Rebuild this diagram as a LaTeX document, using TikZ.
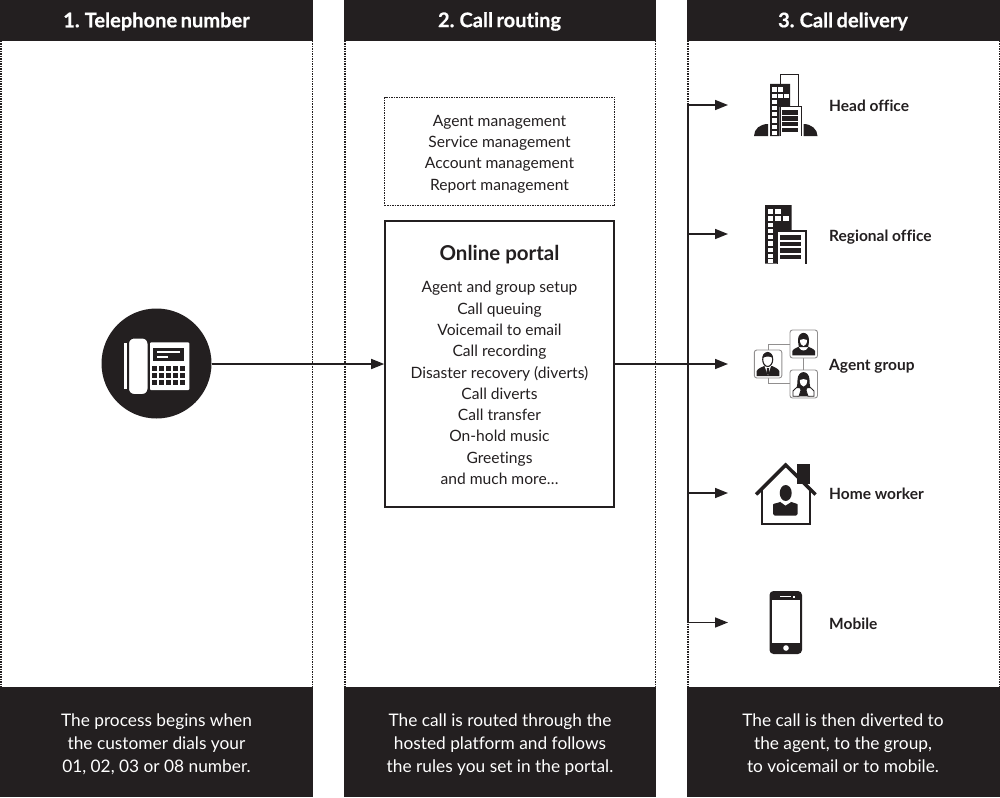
\documentclass[tikz,border=0pt]{standalone}
\usepackage{fontspec}
\setmainfont{Lato}[Ligatures=CommonOff]
\newfontface\hdrfont{Lato Bold}[Ligatures=CommonOff,FakeBold=0.6,WordSpace=0.7]
\definecolor{ink}{HTML}{231F20}
\usetikzlibrary{arrows.meta}
\tikzset{
  x=1pt,y=-1pt,
  band/.style={fill=ink,draw=none},
  dotline/.style={draw=ink,line width=1.5pt,dash pattern=on 1.5pt off 1pt},
  headtxt/.style={text=white,font=\fontsize{20.1}{21}\hdrfont,anchor=center,inner sep=0pt},
  foottxt/.style={text=white,font=\fontsize{17.3}{23.2}\selectfont,align=center,anchor=center,inner sep=0pt},
  bodytxt/.style={text=ink,font=\fontsize{15.6}{21.3}\selectfont,align=center,inner sep=0pt},
  lab/.style={text=ink,font=\fontsize{15.5}{17}\selectfont\bfseries,anchor=base west,inner sep=0pt},
  conn/.style={draw=ink,line width=1.6pt},
  tip/.style={conn,-{Triangle[length=13pt,width=10pt]}},
  ic/.style={fill=ink,draw=none},
  wh/.style={fill=white,draw=none},
}
\begin{document}
\begin{tikzpicture}
\useasboundingbox (0,0) rectangle (1000,797);
% panels
\foreach \a/\b in {0/313,344/656,687/1000}{
  \fill[band] (\a,0) rectangle (\b,41);
  \fill[band] (\a,687) rectangle (\b,797);
  \draw[dotline] (\a+.75,41) -- (\a+.75,687);
  \draw[dotline] (\b-.75,41) -- (\b-.75,687);
}
\node[headtxt] (h1) at (156.5,21.5) {1. Telephone number};
\node[headtxt] (h2) at (499.5,21.5) {2. Call routing};
\node[headtxt] (h3) at (843,21.5) {3. Call delivery};
\node[foottxt] (f1) at (156.5,744) {The process begins when\\the customer dials your\\01, 02, 03 or 08 number.};
\node[foottxt] (f2) at (500,744.6) {The call is routed through the\\hosted platform and follows\\the rules you set in the portal.};
\node[foottxt] (f3) at (843,743.4) {The call is then diverted to\\the agent, to the group,\\to voicemail or to mobile.};
% top box
\node[dotline,minimum width=230pt,minimum height=108pt,inner sep=0pt] (mgmt) at (499.5,151.5) {};
\node[bodytxt] (mtxt) at (499.5,154) {Agent management\\Service management\\Account management\\Report management};
% portal
\node[draw=ink,line width=1.6pt,minimum width=229pt,minimum height=286pt,inner sep=0pt] (portal) at (499.5,364) {};
\node[text=ink,font=\fontsize{20.5}{23}\selectfont\bfseries,inner sep=0pt] (ptitle) at (499.5,254.7) {Online portal};
\node[bodytxt] (plist) at (499.5,383) {Agent and group setup\\Call queuing\\Voicemail to email\\Call recording\\Disaster recovery (diverts)\\Call diverts\\Call transfer\\On-hold music\\Greetings\\and much more…};
% phone
\node[circle,fill=ink,minimum size=110pt,inner sep=0pt] (phone) at (156.5,363.5) {};
\fill[wh,rounded corners=1pt] (150,342.3) rectangle (189.3,390);
\fill[ic] (152.7,347.7) rectangle (184.3,361);
\fill[wh] (156.7,351) rectangle (180,353.3);
\fill[wh] (156.7,355.7) rectangle (168.3,358.3);
\foreach \r in {366,373,380}{\foreach \c in {152,159,166,173,179.7}{\fill[ic] (\c,\r) rectangle +(5,5.2);}}
\fill[wh] (124,343.3) rectangle (126.7,389.3);
\fill[wh,draw=ink,line width=2pt,rounded corners=6pt] (128,337.5) rectangle (148.5,395);
% labels
\node[lab] (lhead) at (829,112) {Head office};
\node[lab] (lreg) at (829,241) {Regional office};
\node[lab] (lagent) at (829,370.5) {Agent group};
\node[lab] (lhome) at (829,499.8) {Home worker};
\node[lab] (lmob) at (829,629) {Mobile};
% connectors
\coordinate (busT) at (687.7,105);
\coordinate (busB) at (687.7,622.5);
\coordinate (i1) at (728,105);
\coordinate (i2) at (728,234);
\coordinate (i3) at (728,364);
\coordinate (i4) at (728,493);
\coordinate (i5) at (728,622.5);
\draw[conn,line width=2pt] (busT) -- (busB);
\draw[tip] (phone.east|-portal.west) -- (portal.west);
\draw[tip] (portal.east) -- (i3);
\foreach \n in {1,2,4,5}{\draw[tip] (busT|-i\n) -- (i\n);}
% head office icon
\draw[draw=ink,line width=1pt] (780,85) -- (780,75) -- (798,75) -- (798,107);
\fill[ic] (770,84) -- (790,84) -- (790,107) -- (779.5,107) -- (779.5,136) -- (770,136) -- cycle;
\foreach \y in {100.5,106.5,112.5,118.5,124.5,130.5}{\fill[wh] (772,\y) rectangle +(4.5,4);}
\foreach \x/\y in {772/87.5,778/87.5,772/94,778/94,784/94}{\fill[wh] (\x,\y) rectangle +(4.5,4.5);}
\draw[draw=ink,line width=1pt] (780,136) -- (780,107) -- (801.5,107) -- (801.5,136);
\foreach \y in {110.5,116.5,122,128}{\fill[ic] (781.5,\y) rectangle +(16,4.3);}
\fill[ic] (754,136) .. controls (754,129) and (760,124) .. (768,124) -- (768,136) -- cycle;
\fill[ic] (817.5,136) .. controls (817.5,129) and (811,124) .. (803.5,124) -- (803.5,136) -- cycle;
% regional icon
\fill[ic] (765,205) -- (791.5,205) -- (791.5,231) -- (777,231) -- (777,263.5) -- (765,263.5) -- cycle;
\foreach \y in {222.5,228.8,235.1,241.4,247.7,254,258.5}{\fill[wh] (767.5,\y) rectangle +(5.7,4.2);}
\foreach \x/\y in {767.5/209,775/209,767.5/216,775/216,783/216}{\fill[wh] (\x,\y) rectangle +(5.5,5);}
\draw[draw=ink,line width=1.6pt] (777.5,263.5) -- (777.5,231) -- (806,231) -- (806,263.5);
\foreach \y in {235,241.5,248,254.5}{\fill[ic] (780,\y) rectangle +(21,4.8);}
% agent icon
\draw[draw=ink!50,line width=.9pt] (768,350) -- (768,344) -- (790,344);
\draw[draw=ink!50,line width=.9pt] (768,378) -- (768,383) -- (790,383);
\draw[draw=ink!50,line width=.9pt] (803.5,357.5) -- (803.5,370);
\foreach \x/\y in {754.3/350,790/330,790/370}{
  \draw[draw=ink!50,fill=white,line width=.9pt,rounded corners=2.5pt] (\x,\y) rectangle +(27.5,28);
}
% man
\fill[ic] (756.7,376) -- (756.7,371) .. controls (758,368) and (762,367.5) .. (764,366) -- (772,366) .. controls (774,367.5) and (778,368) .. (779.3,371) -- (779.3,376) -- cycle;
\fill[wh] (764.5,366) -- (771,366) -- (768,375.5) -- cycle;
\fill[ic] (767,368) -- (769,368) -- (769.5,373) -- (768,375) -- (766.5,373) -- cycle;
\draw[draw=ink,fill=white,line width=1.1pt] (767.7,359.5) ellipse[x radius=5,y radius=7];
\fill[ic] (762.5,358) .. controls (762,350.5) and (773,350.5) .. (772.8,358) .. controls (770,356) and (766,356) .. (762.5,358) -- cycle;
% woman 1
\fill[ic] (792.3,355.3) -- (792.3,351) .. controls (794,348) and (798,347.5) .. (800,346) -- (807,346) .. controls (809,347.5) and (813,348) .. (815,351) -- (815,355.3) -- cycle;
\fill[wh] (799,347.5) .. controls (801,351.5) and (806,351.5) .. (808,347.5) -- (806,345) -- (801,345) -- cycle;
\fill[ic] (798,340) .. controls (798,330.5) and (809,330.5) .. (809,340) .. controls (809,343) and (808.5,345) .. (808,347) -- (799,347) .. controls (798.5,345) and (798,343) .. (798,340) -- cycle;
\fill[wh] (800,340) .. controls (802,339) and (805,338.5) .. (807,340) .. controls (807,343.5) and (805.5,346) .. (803.5,346) .. controls (801.5,346) and (800,343.5) .. (800,340) -- cycle;
% woman 2
\fill[ic] (797,396.3) -- (797,390) -- (800,386.5) -- (807,386.5) -- (810,390) -- (810,396.3) -- cycle;
\draw[draw=ink,line width=.8pt,fill=white] (793,396.3) -- (793,391) .. controls (794,388.5) and (797,388) .. (799,386) -- (801,390) -- (799,396.3) -- cycle;
\draw[draw=ink,line width=.8pt,fill=white] (814,396.3) -- (814,391) .. controls (813,388.5) and (810,388) .. (808,386) -- (806,390) -- (808,396.3) -- cycle;
\fill[ic] (797.5,380) .. controls (797.5,369.5) and (809.5,369.5) .. (809.5,380) .. controls (809.5,384) and (810,386) .. (810.5,388) -- (796.5,388) .. controls (797,386) and (797.5,384) .. (797.5,380) -- cycle;
\fill[wh] (799.8,380) .. controls (802,379) and (805,378.5) .. (807.2,380) .. controls (807.2,384) and (805.5,386.5) .. (803.5,386.5) .. controls (801.5,386.5) and (799.8,384) .. (799.8,380) -- cycle;
% home icon
\fill[ic] (796.7,464) rectangle (810,484);
\draw[draw=ink,line width=3.5pt,miter limit=10] (756,494.5) -- (785.7,465) -- (815.5,494.5);
\draw[draw=ink,line width=2.3pt] (761.7,489) -- (761.7,524) -- (810,524) -- (810,489);
\fill[ic,rounded corners=1.5pt] (773,515.5) -- (773,506) .. controls (773,503.5) and (778,503) .. (781,501.5) -- (790.5,501.5) .. controls (793.5,503) and (797.5,503.5) .. (797.5,506) -- (797.5,515.5) -- cycle;
\fill[wh] (780.5,502) -- (785.5,505.5) -- (791,502) -- (789,500) -- (782,500) -- cycle;
\fill[ic] (785.7,493) ellipse[x radius=6,y radius=8];
% mobile icon
\fill[ic,rounded corners=4pt] (769.5,591) rectangle (802,654);
\fill[wh] (772,600) rectangle (800,643);
\fill[wh] (780,595.5) rectangle (791,597);
\fill[wh] (793,595.5) rectangle (795,597.5);
\fill[wh] (786,648) circle[radius=2.8];
\end{tikzpicture}
\end{document}
